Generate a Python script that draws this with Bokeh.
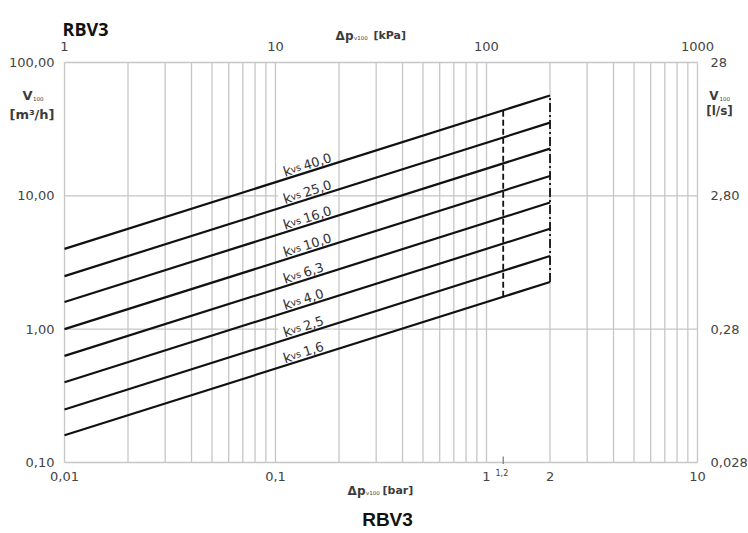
import math
from bokeh.plotting import figure
from bokeh.models import (Range1d, LogScale, LogAxis, FixedTicker,
                          CustomJSTickFormatter, ColumnDataSource, Label)
from bokeh.core.properties import value
from bokeh.embed import file_html
from bokeh.resources import INLINE

# ---------------- data ----------------
kvs_values = [1.6, 2.5, 4.0, 6.3, 10.0, 16.0, 25.0, 40.0]
kvs_labels = ["1,6", "2,5", "4,0", "6,3", "10,0", "16,0", "25,0", "40,0"]
dp_start_bar = 0.01
dp_end_bar = 2.0
flow_at_start = [0.16, 0.25, 0.40, 0.63, 1.00, 1.60, 2.50, 4.00]     # m3/h at 0,01 bar
flow_at_end = [2.26, 3.54, 5.66, 8.91, 14.1, 22.6, 35.4, 56.6]       # m3/h at 2 bar
dp_limit_bar = 1.2
limit_flow = [1.75, 43.8]      # dashed line at 1,2 bar
end_flow = [2.26, 56.6]        # dash-dot line at 2 bar

x_min_bar, x_max_bar = 0.01, 10.0
y_min_m3h, y_max_m3h = 0.1, 100.0
bottom_ticks = [0.01, 0.1, 1, 2, 10]
bottom_labels = ["0,01", "0,1", "1", "2", "10"]
top_ticks = [1, 10, 100, 1000]
top_labels = ["1", "10", "100", "1000"]
left_ticks = [0.1, 1, 10, 100]
left_labels = ["0,10", "1,00", "10,00", "100,00"]
right_ticks = [0.028, 0.28, 2.8, 28]
right_labels = ["0,028", "0,28", "2,80", "28"]
kpa_per_bar = 100.0
ls_per_m3h = 0.28
vgrid_ticks = [m * 10.0 ** e for e in (-2, -1, 0) for m in range(1, 10)] + [10.0]
hgrid_ticks = [0.1, 1, 10, 100]

# ---------------- layout (page px) ----------------
W, H = 748, 533
FL, FR, FT, FB = 64, 697, 62, 462          # where the chart box sits
DEC_X = (FR - FL) / math.log10(x_max_bar / x_min_bar)
DEC_Y = (FB - FT) / math.log10(y_max_m3h / y_min_m3h)


def dx(sx):
    return x_min_bar * 10 ** ((sx - FL) / DEC_X)


def dy(sy):
    return y_min_m3h * 10 ** ((FB - sy) / DEC_Y)


GRID = "#c6c6c6"
TXT = "#3c3c3c"

# the plotting frame covers the whole canvas; the chart box is placed inside it
xr = Range1d(dx(0), dx(W))
yr_ = Range1d(dy(H), dy(0))
p = figure(width=W, height=H, x_axis_type="log", y_axis_type="log",
           x_range=xr, y_range=yr_, x_axis_location=None, y_axis_location=None,
           output_backend="svg", toolbar_location=None, title=None,
           min_border=0, min_border_left=0, min_border_right=0,
           min_border_top=0, min_border_bottom=0)
p.background_fill_color = "white"
p.border_fill_color = "white"
p.outline_line_color = None
p.xgrid.visible = False
p.ygrid.visible = False

p.extra_x_ranges = {"kpa": Range1d(xr.start * kpa_per_bar, xr.end * kpa_per_bar)}
p.extra_x_scales = {"kpa": LogScale()}
p.extra_y_ranges = {"ls": Range1d(yr_.start * ls_per_m3h, yr_.end * ls_per_m3h)}
p.extra_y_scales = {"ls": LogScale()}

FMT_CODE = """
for (let i = 0; i < tv.length; i++) {
  if (Math.abs(Math.log10(tv[i]) - Math.log10(tick)) < 1e-6) { return tl[i]; }
}
return "";
"""


def fmt(ticks, labels):
    return CustomJSTickFormatter(args=dict(tv=ticks, tl=labels), code=FMT_CODE)


def make_axis(ticks, labels, standoff, **kw):
    ax = LogAxis(ticker=FixedTicker(ticks=ticks, minor_ticks=[]),
                 formatter=fmt(ticks, labels), **kw)
    ax.axis_line_color = None
    ax.major_tick_line_color = None
    ax.minor_tick_line_color = None
    ax.major_tick_out = 0
    ax.major_tick_in = 0
    ax.minor_tick_out = 0
    ax.minor_tick_in = 0
    ax.major_label_standoff = standoff
    ax.major_label_text_font = "DejaVu Sans"
    ax.major_label_text_font_size = "13px"
    ax.major_label_text_color = "#444444"
    return ax


p.add_layout(make_axis(bottom_ticks, bottom_labels, 9, fixed_location=y_min_m3h), "below")
p.add_layout(make_axis(left_ticks, left_labels, 10, fixed_location=x_min_bar), "left")
p.add_layout(make_axis(top_ticks, top_labels, 12, x_range_name="kpa",
                       fixed_location=y_max_m3h), "above")
p.add_layout(make_axis(right_ticks, right_labels, 13, y_range_name="ls",
                       fixed_location=x_max_bar), "right")

# ---------------- grid ----------------
p.segment(x0=vgrid_ticks, x1=vgrid_ticks, y0=[y_min_m3h] * len(vgrid_ticks),
          y1=[y_max_m3h] * len(vgrid_ticks), line_color=GRID, line_width=1.3)
p.segment(x0=[x_min_bar] * len(hgrid_ticks), x1=[x_max_bar] * len(hgrid_ticks),
          y0=hgrid_ticks, y1=hgrid_ticks, line_color=GRID, line_width=1.3)

# ---------------- label geometry along each kvs line ----------------
lx0, lx1 = math.log10(dp_start_bar), math.log10(dp_end_bar)


def line_sy(i, sx):
    lq0, lq1 = math.log10(flow_at_start[i]), math.log10(flow_at_end[i])
    lx = math.log10(dx(sx))
    lq = lq0 + (lx - lx0) * (lq1 - lq0) / (lx1 - lx0)
    return FB - (lq - math.log10(y_min_m3h)) * DEC_Y


rect_d = dict(x=[], y=[], a=[])
k_d = dict(x=[], y=[], a=[], t=[])
vs_d = dict(x=[], y=[], a=[], t=[])
n_d = dict(x=[], y=[], a=[], t=[])
for i, lab in enumerate(kvs_labels):
    lq0, lq1 = math.log10(flow_at_start[i]), math.log10(flow_at_end[i])
    a = math.atan((lq1 - lq0) / (lx1 - lx0) * DEC_Y / DEC_X)
    ca, sa = math.cos(a), math.sin(a)
    ox, oy = 283.0, line_sy(i, 283.0) - 7.5

    def along(t, up=0.0):
        return ox + t * ca - up * sa, oy - t * sa - up * ca

    cx, cy = along(26, 5)
    rect_d["x"].append(dx(cx)); rect_d["y"].append(dy(cy)); rect_d["a"].append(a)
    for dct, t, s in ((k_d, 0.0, "k"), (vs_d, 7.5, "vs"), (n_d, 21.0, lab)):
        px, py = along(t)
        dct["x"].append(dx(px)); dct["y"].append(dy(py)); dct["a"].append(a); dct["t"].append(s)

p.rect(x="x", y="y", width=60, height=17, angle="a", width_units="screen",
       height_units="screen", fill_color="white", line_color=None,
       source=ColumnDataSource(rect_d))

# ---------------- kvs lines ----------------
src = ColumnDataSource(dict(x0=[dp_start_bar] * len(kvs_values), x1=[dp_end_bar] * len(kvs_values),
                            y0=flow_at_start, y1=flow_at_end))
p.segment(x0="x0", y0="y0", x1="x1", y1="y1", source=src, line_color="#111111", line_width=2.2)

p.segment(x0=[dp_limit_bar], y0=[limit_flow[0]], x1=[dp_limit_bar], y1=[limit_flow[1]],
          line_color="#111111", line_width=1.8, line_dash="6 3")
p.segment(x0=[dp_end_bar], y0=[end_flow[0]], x1=[dp_end_bar], y1=[end_flow[1]],
          line_color="#111111", line_width=1.8, line_dash="9 3 2 3")

# small tick at 1,2 bar
p.segment(x0=[dp_limit_bar], y0=[dy(463.5)], x1=[dp_limit_bar], y1=[dy(456)],
          line_color="#777777", line_width=1.2)

for dct, size in ((k_d, "14px"), (vs_d, "9.5px"), (n_d, "13px")):
    p.text(x="x", y="y", text="t", angle="a", source=ColumnDataSource(dct),
           text_font=value("DejaVu Sans"), text_font_size=value(size),
           text_color="#333333", text_align="left", text_baseline="alphabetic")


# ---------------- free texts ----------------
def lab(sx, sy, text, size, bold=True, align="left", font="DejaVu Sans", color=TXT):
    p.add_layout(Label(x=dx(sx), y=dy(sy), text=text, text_font=font,
                       text_font_size=size, text_font_style="bold" if bold else "normal",
                       text_align=align, text_baseline="alphabetic", text_color=color))


lab(62, 28, "RBV3", "18px", font="Open Sans", color="#111111")
lab(387, 519, "RBV3", "19px", align="center", font="Liberation Sans", color="#111111")

# top axis title
lab(353, 35, "Δp", "12px", align="right")
lab(353.5, 37, "v100", "5.5px", bold=False)
lab(373, 35, "[kPa]", "11px")
# bottom axis title
lab(365, 490, "Δp", "12px", align="right")
lab(365.5, 492, "v100", "5.5px", bold=False)
lab(382, 490, "[bar]", "11px")
# left axis title
lab(32, 95, "V", "13px", align="right")
lab(32.5, 98, "100", "5.5px", bold=False)
lab(31.5, 114, "[m³/h]", "13px", align="center")
# right axis title
lab(718, 95, "V", "12px", align="right")
lab(719, 98, "100", "5.5px", bold=False)
lab(719, 110, "[l/s]", "12px", align="center")
# 1,2 mark
lab(495, 472, "1,2", "8px", bold=False, color="#444444")

open("out.html", "w").write(file_html(p, INLINE))
